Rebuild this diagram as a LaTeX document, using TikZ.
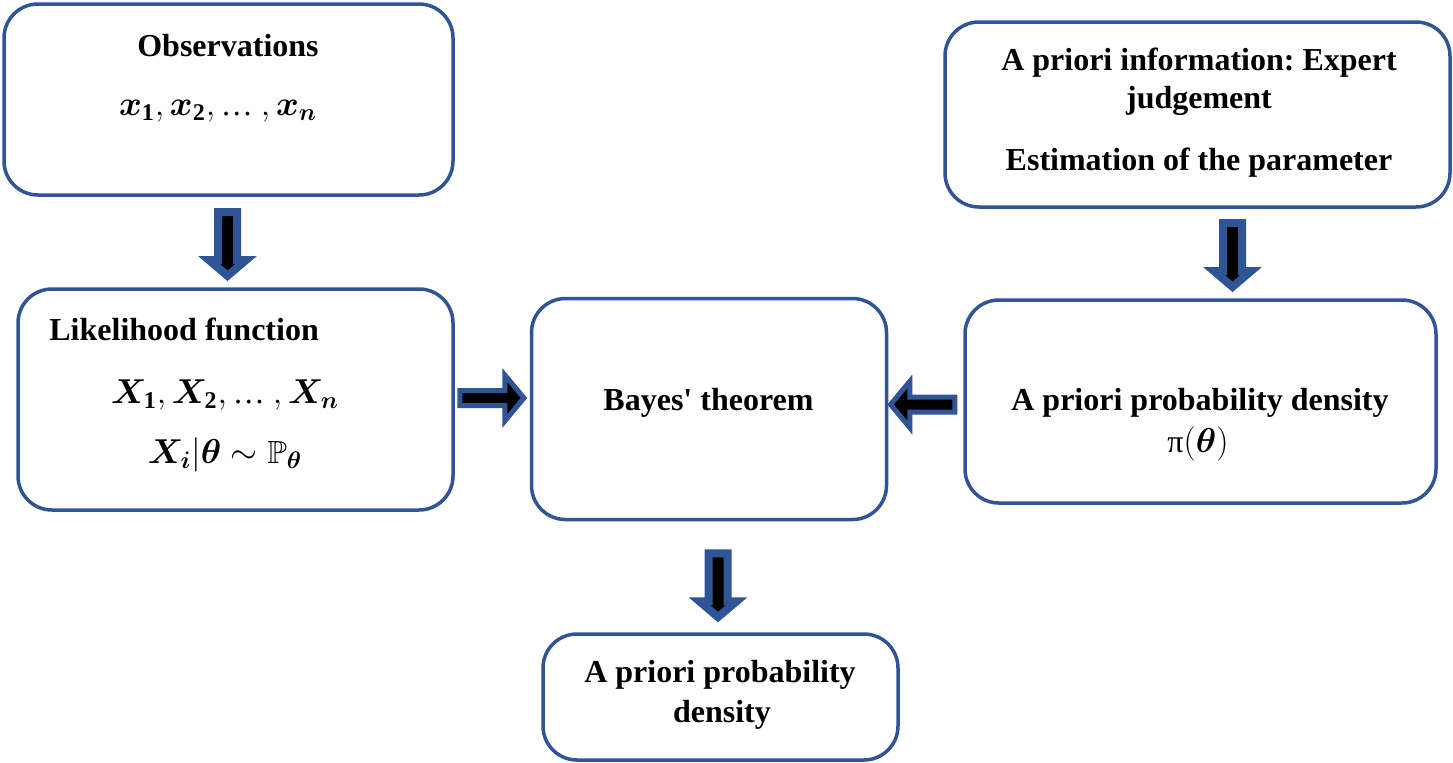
\documentclass[tikz,border=0pt]{standalone}
\usepackage{fontspec}
\setmainfont{Liberation Serif}
\usepackage{amsmath,amssymb,bm}
\usetikzlibrary{calc}
\definecolor{boxblue}{HTML}{2F5597}
\DeclareMathSizes{16}{16}{12}{9}
\newcommand{\cdotsrow}{\mbox{\normalfont …}}

\tikzset{
  box/.style={draw=boxblue, line width=1.75pt, rounded corners=17pt, fill=white, inner sep=0pt},
  lbl/.style={font=\fontsize{16}{20}\selectfont\bfseries\frenchspacing, inner sep=0pt, anchor=base},
  mlbl/.style={font=\fontsize{16}{20}\selectfont, inner sep=0pt, anchor=base},
  % block arrow pointing along +x, blue rim and black core
  pics/vblock/.style={code={
    \path[fill=black, draw=boxblue, line width=4pt, miter limit=20]
      (-32.5,-9.5) -- (15.5,-9.5) -- (15.5,-18.6) -- (31.3,0)
      -- (15.5,18.6) -- (15.5,9.5) -- (-32.5,9.5) -- cycle;
  }},
  pics/hblock/.style={code={
    \path[fill=black, draw=boxblue, line width=2.5pt, miter limit=20]
      (-32.5,-7.5) -- (12.5,-7.5) -- (12.5,-23.1) -- (31.7,0)
      -- (12.5,23.1) -- (12.5,7.5) -- (-32.5,7.5) -- cycle;
  }},
}

\begin{document}
\begin{tikzpicture}[x=0.5pt, y=-0.5pt]
\useasboundingbox[fill=white] (0,0) rectangle (1453,762);

% boxes
\node[box, minimum width=224.5pt, minimum height=95.5pt] (obs)   at (228.5,99.5)  {};
\node[box, minimum width=252.5pt, minimum height=92.5pt] (info)  at (1197.5,114.5) {};
\node[box, minimum width=217.5pt, minimum height=110.5pt] (lik)  at (235.5,399.5) {};
\node[box, minimum width=177.5pt, minimum height=110.5pt] (bayes) at (709,409)    {};
\node[box, minimum width=235.5pt, minimum height=101.5pt] (dens) at (1200.5,401.5) {};
\node[box, minimum width=177.5pt, minimum height=63pt]    (res)  at (720.5,697)   {};

% texts
\node[lbl] (obsT) at (228,56) {Observations};
\node[mlbl] (obsM) at (218,115)
  {$\boldsymbol{x}_{\mathbf{1}}, \boldsymbol{x}_{\mathbf{2}}, \cdotsrow\ , \boldsymbol{x}_{\boldsymbol{n}}$};

\node[lbl] (infoA) at (1199,70)  {A priori information: Expert};
\node[lbl] (infoB) at (1199,108) {judgement};
\node[lbl] (infoC) at (1199,170) {Estimation of the parameter};

\node[lbl, anchor=base west] (likT) at (49,340) {Likelihood function};
\node[mlbl] (likA) at (225,403)
  {$\boldsymbol{X}_{\mathbf{1}}, \boldsymbol{X}_{\mathbf{2}}, \cdotsrow\ , \boldsymbol{X}_{\boldsymbol{n}}$};
\node[mlbl] (likB) at (225,463)
  {$\boldsymbol{X}_{\boldsymbol{i}}|\boldsymbol{\theta} \sim \mathbb{P}_{\boldsymbol{\theta}}$};

\node[lbl] (bayesT) at (708.5,410) {Bayes\textquotesingle{} theorem};

\node[lbl] (densT) at (1200,410) {A priori probability density};
\node[mlbl] (densM) at (1198,452) {π$(\boldsymbol{\theta})$};

\node[lbl] (resA) at (720,682) {A priori probability};
\node[lbl] (resB) at (722,722) {density};

% block arrows between the boxes
\path ($(obs.south)!0.5!(obs.south |- lik.north)$) ++(-1,2.5) pic[rotate=-90] {vblock};
\path ($(info.south)!0.5!(info.south |- dens.north)$) ++(35,2) pic[rotate=-90] {vblock};
\path ($(bayes.south)!0.5!(bayes.south |- res.north)$) ++(9,9) pic[rotate=-90] {vblock};
\path ($(lik.east)!0.5!(lik.east -| bayes.west)$) ++(0,-1.5) pic {hblock};
\path ($(bayes.east)!0.5!(bayes.east -| dens.west)$) ++(-3.5,-4.5) pic[rotate=180] {hblock};
\end{tikzpicture}
\end{document}
